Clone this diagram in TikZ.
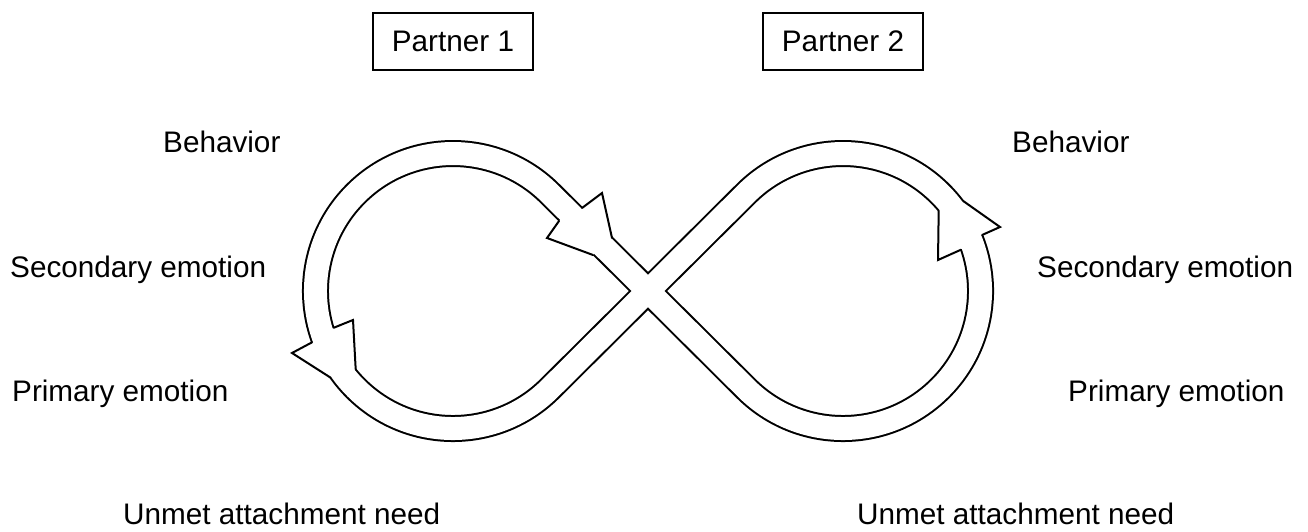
\documentclass[tikz,border=0pt]{standalone}
\usepackage{fontspec}
\setmainfont{Liberation Sans}
\begin{document}
\begin{tikzpicture}[x=1pt,y=1pt,
  lbl/.style={font=\fontsize{29.7}{34}\selectfont, inner sep=0pt, anchor=base west},
  pbox/.style={draw, line width=2pt, minimum width=160pt, minimum height=57pt, font=\fontsize{29.7}{34}\selectfont, inner sep=0pt},
  bandout/.style={line width=27pt, black},
  bandin/.style={line width=23pt, white},
  spike/.style={line width=2pt, line join=miter, line cap=round},
  spikefill/.style={fill=white},
]
\useasboundingbox (0,0) rectangle (1308,532);
\fill[white] (0,0) rectangle (1308,532);

% figure-eight band
\coordinate (X) at (648,241);
\coordinate (L1) at (550.2,338.2);
\coordinate (R1) at (745.8,338.2);
\draw[bandout] (X) -- (L1) arc[start angle=45,end angle=315,radius=137.5pt] -- (R1) arc[start angle=135,end angle=-135,radius=137.5pt] -- cycle;
\draw[bandin] (X) -- (L1) arc[start angle=45,end angle=315,radius=137.5pt] -- (R1) arc[start angle=135,end angle=-135,radius=137.5pt] -- cycle;

% arrowhead at top-left (towards centre)
\fill[spikefill] (582,324) -- (602,339) -- (612,294) -- (607,289) -- (577,319) -- cycle;
\draw[spike] (582,324) -- (602,339) -- (612,294);
\fill[spikefill] (559,311) -- (547,294) -- (593,277) -- (598,282) -- (564,316) -- cycle;
\draw[spike] (559,311) -- (547,294) -- (593,277);

% arrowhead on left side
\fill[spikefill] (312.1,189.7) -- (292,179) -- (330.5,154.4) -- (336.2,158.4) -- (318.7,192.1) -- cycle;
\draw[spike] (312.1,189.7) -- (292,179) -- (330.5,154.4);
\fill[spikefill] (333.6,204.2) -- (353,212) -- (355.7,162.6) -- (350.3,158.2) -- (326.9,202.1) -- cycle;
\draw[spike] (333.6,204.2) -- (353,212) -- (355.7,162.6);

% arrowhead on right side
\fill[spikefill] (962.9,331.2) -- (1000,305) -- (982.1,297) -- (975.6,294.4) -- (957.3,327) -- cycle;
\draw[spike] (962.9,331.2) -- (1000,305) -- (982.1,297);
\fill[spikefill] (938.7,321.4) -- (938,272) -- (961,282.3) -- (967.6,284.6) -- (944.1,325.9) -- cycle;
\draw[spike] (938.7,321.4) -- (938,272) -- (961,282.3);

% partner boxes
\node[pbox] (p1) at (453,490.5) {Partner 1};
\node[pbox] (p2) at (843,490.5) {Partner 2};

% left labels
\node[lbl] (lb) at (163,379) {Behavior};
\node[lbl] (ls) at (10,254) {Secondary emotion};
\node[lbl] (lp) at (12,130) {Primary emotion};
\node[lbl] (lu) at (123,7) {Unmet attachment need};
% right labels
\node[lbl] (rb) at (1012,379) {Behavior};
\node[lbl] (rs) at (1037,254) {Secondary emotion};
\node[lbl] (rp) at (1068,130) {Primary emotion};
\node[lbl] (ru) at (857,7) {Unmet attachment need};
\end{tikzpicture}
\end{document}
